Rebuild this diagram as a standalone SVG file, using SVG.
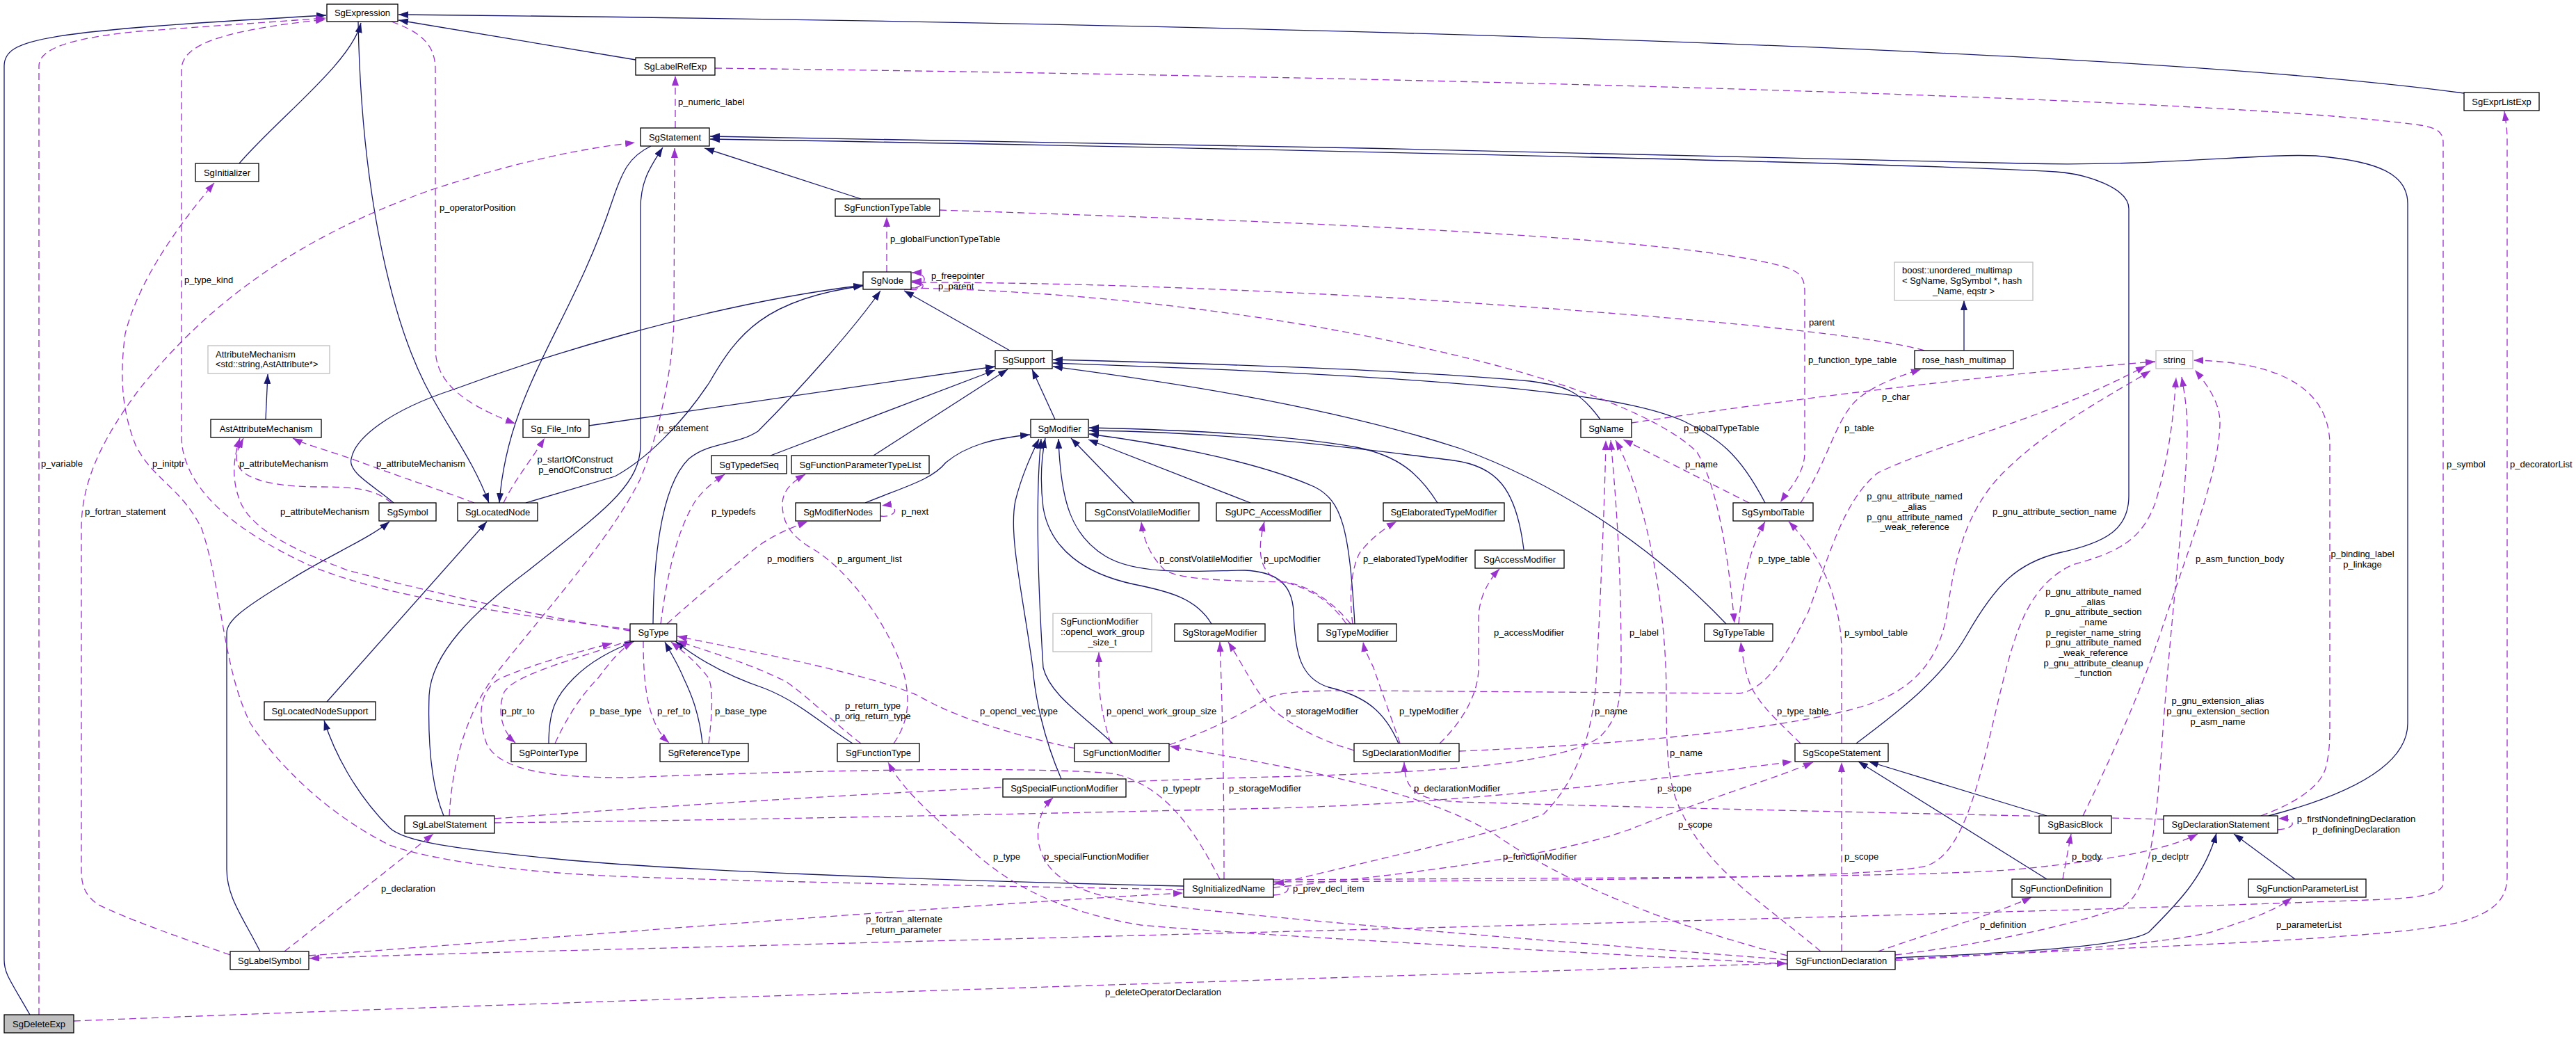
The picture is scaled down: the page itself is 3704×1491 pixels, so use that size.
<svg xmlns="http://www.w3.org/2000/svg" width="3704" height="1491" viewBox="0 0 3704 1491">
<style>
text{font-family:"Liberation Sans",Arial,Helvetica,sans-serif;font-size:13px;fill:#000}
.n rect{fill:#fff;stroke:#000;stroke-width:1.3}
.g rect{stroke:#bfbfbf}
.n text{text-anchor:middle}
.n text.l{text-anchor:start}
.inh{fill:none;stroke:#191970;stroke-width:1.3;marker-end:url(#ab)}
.use{fill:none;stroke:#9a32cd;stroke-width:1.3;stroke-dasharray:10,6;marker-end:url(#ap)}
.m{text-anchor:middle}
</style>
<defs>
<marker id="ab" viewBox="0 0 14 10" refX="14" refY="5" markerWidth="14" markerHeight="10" orient="auto" markerUnits="userSpaceOnUse"><path d="M0,0L14,5L0,10z" fill="#191970"/></marker>
<marker id="ap" viewBox="0 0 14 10" refX="14" refY="5" markerWidth="14" markerHeight="10" orient="auto" markerUnits="userSpaceOnUse"><path d="M0,0L14,5L0,10z" fill="#9a32cd"/></marker>
</defs>
<rect width="3704" height="1491" fill="#fff"/>
<g id="connectors">
<path class="inh" d="M344,235C400,170 505,90 519,33"/>
<path class="inh" d="M914,86L573,29"/>
<path class="inh" d="M3543,134C3000,60 1500,30 573,21"/>
<path class="inh" d="M43,1459C15,1410 6,1400 6,1380L6,95C6,55 60,45 469,22"/>
<path class="inh" d="M515,31C520,300 570,470 610,550C640,610 680,660 703,723"/>
<path class="inh" d="M936,210C905,225 895,245 880,290C820,470 730,560 718,723"/>
<path class="inh" d="M756,723L884,685C930,660 980,610 1020,550C1060,480 1100,430 1241,411"/>
<path class="inh" d="M566,723C540,700 500,680 505,660C510,630 560,590 652,560C760,520 1000,440 1241,410"/>
<path class="inh" d="M939,897C940,800 950,700 990,660C1020,635 1060,640 1090,620C1150,560 1230,470 1266,418"/>
<path class="inh" d="M1452,504L1300,418"/>
<path class="inh" d="M382,603L385,538"/>
<path class="inh" d="M847,612L1431,527"/>
<path class="inh" d="M1108,655L1431,532"/>
<path class="inh" d="M1256,655L1449,531"/>
<path class="inh" d="M1517,603L1484,531"/>
<path class="inh" d="M2301,603C2270,560 2250,555 2200,548C2000,530 1700,522 1514,517"/>
<path class="inh" d="M2538,723C2500,650 2470,630 2420,605C2350,575 2200,545 1514,522"/>
<path class="inh" d="M2482,897C2380,790 2250,700 2100,645C1900,580 1650,545 1514,527"/>
<path class="inh" d="M1244,723C1300,700 1340,690 1360,665C1390,640 1430,630 1481,625"/>
<path class="inh" d="M1630,723L1540,630"/>
<path class="inh" d="M1798,723L1565,632"/>
<path class="inh" d="M2067,723C2040,680 2010,655 1950,643C1850,625 1700,618 1566,615"/>
<path class="inh" d="M2191,790C2180,700 2150,670 2090,662C1990,650 1800,622 1566,619"/>
<path class="inh" d="M1948,897C1940,760 1930,720 1890,700C1800,660 1650,635 1566,624"/>
<path class="inh" d="M1742,897C1720,860 1680,850 1630,840C1560,825 1510,790 1500,730C1495,690 1497,660 1503,630"/>
<path class="inh" d="M1600,1069C1560,1030 1510,1000 1500,960C1490,800 1490,700 1497,631"/>
<path class="inh" d="M2011,1069C1990,1020 1960,1000 1910,988C1870,975 1862,940 1860,880C1858,835 1830,822 1790,820C1740,820 1640,830 1590,800C1540,770 1525,720 1522,631"/>
<path class="inh" d="M1526,1120C1500,1060 1488,1000 1485,960C1470,850 1450,770 1460,720C1470,680 1485,650 1494,631"/>
<path class="inh" d="M1238,286L1013,213"/>
<path class="inh" d="M2669,1069C2720,1030 2790,980 2828,913C2870,840 2900,810 2960,795C3030,780 3061,760 3061,713L3061,300C3061,270 3000,250 2956,247C2700,232 1400,206 1021,200"/>
<path class="inh" d="M3262,1173C3350,1150 3462,1110 3462,1040L3462,293C3462,250 3420,232 3330,224C3250,220 3100,240 2911,235C2600,224 1300,200 1021,196"/>
<path class="inh" d="M638,1173C620,1130 615,1070 617,1000C620,940 680,880 760,820C860,740 921,700 921,640L921,300C921,260 935,240 953,212"/>
<path class="inh" d="M789,1069C789,1020 800,1000 825,975C850,950 880,935 912,922"/>
<path class="inh" d="M1010,1069C1005,1020 990,990 983,975C975,955 965,940 956,923"/>
<path class="inh" d="M1226,1069C1180,1040 1150,1010 1100,990C1040,970 1000,945 971,922"/>
<path class="inh" d="M374,1368C350,1320 326,1290 326,1250L326,910C326,895 340,880 415,835C470,800 530,775 560,750"/>
<path class="inh" d="M470,1009L700,750"/>
<path class="inh" d="M1702,1274C1300,1265 950,1250 800,1235C650,1220 580,1210 560,1190C510,1140 480,1080 466,1036"/>
<path class="inh" d="M2824,504L2824,432"/>
<path class="inh" d="M2943,1173L2687,1095"/>
<path class="inh" d="M2943,1264L2672,1095"/>
<path class="inh" d="M2726,1377C2900,1370 3060,1360 3090,1340C3130,1300 3170,1260 3187,1198"/>
<path class="inh" d="M3300,1264L3212,1199"/>

<path class="use" d="M56,1459L56,95C56,70 100,55 200,45L468,26"/>
<path class="use" d="M906,905C750,885 560,860 450,815C350,770 290,720 270,670C262,650 261,640 261,620L261,100C261,70 300,45 468,28"/>
<path class="use" d="M1702,1279C1300,1272 950,1264 850,1258C700,1250 600,1230 560,1215C470,1170 400,1100 360,1040C320,960 320,850 290,760C260,700 220,690 195,640C175,590 172,540 180,480C200,400 260,320 308,263"/>
<path class="use" d="M563,31C600,45 626,60 626,100L626,500C626,540 650,575 741,609"/>
<path class="use" d="M331,1373C250,1345 180,1320 140,1300C120,1285 117,1270 117,1250L117,760C117,700 140,640 200,560C280,460 400,350 623,272C720,240 820,215 913,205"/>
<path class="use" d="M971,184L971,109"/>
<path class="use" d="M1028,98C2000,110 3200,140 3480,180C3505,184 3513,190 3513,205L3513,1270C3513,1285 3480,1292 3404,1294C3000,1310 2000,1335 1000,1362C800,1367 600,1372 445,1378"/>
<path class="use" d="M2725,1379C3100,1360 3450,1350 3540,1325C3590,1310 3605,1290 3605,1260L3605,200C3605,185 3603,175 3601,160"/>
<path class="use" d="M1275,391L1275,312"/>
<path class="use" d="M1300,416C1335,416 1338,392 1311,392"/>
<path class="use" d="M1308,416C1330,420 1336,405 1311,404"/>
<path class="use" d="M2767,504C2700,485 2500,460 2000,428C1700,412 1500,406 1311,406"/>
<path class="use" d="M1310,414C1600,420 1900,460 2150,525C2300,565 2400,610 2440,650C2470,700 2485,800 2494,896"/>
<path class="use" d="M1351,302C1900,320 2400,340 2560,382C2590,390 2595,400 2595,420L2595,650C2595,680 2575,700 2560,722"/>
<path class="use" d="M2589,723C2630,660 2640,600 2672,573C2700,550 2740,538 2762,531"/>
<path class="use" d="M2515,723L2334,632"/>
<path class="use" d="M2346,608C2600,570 2900,535 3099,520"/>
<path class="use" d="M2500,897C2505,840 2515,790 2538,750"/>
<path class="use" d="M2648,1069L2648,930C2645,860 2620,800 2572,750"/>
<path class="use" d="M2589,1069C2560,1040 2525,1010 2515,980C2508,960 2505,940 2503,923"/>
<path class="use" d="M1681,1071C1740,1050 1780,1030 1820,1005C1840,995 1870,993 1950,993L2500,997C2540,992 2570,940 2600,880C2630,800 2650,720 2700,680C2780,640 2950,600 3085,526"/>
<path class="use" d="M2098,1080C2400,1068 2600,1040 2680,1015C2760,990 2790,940 2800,880C2810,800 2830,730 2880,680C2950,610 3050,560 3092,533"/>
<path class="use" d="M1831,1268C2300,1266 2700,1262 2770,1245C2830,1225 2850,1100 2880,980C2900,900 2920,840 2980,812C3040,795 3080,780 3100,720C3120,650 3125,600 3129,543"/>
<path class="use" d="M2995,1173C3040,1080 3080,990 3110,900C3150,780 3190,680 3192,610C3193,580 3175,555 3156,532"/>
<path class="use" d="M2725,1373C2850,1358 2980,1330 3050,1305C3090,1285 3100,1200 3110,1050C3125,850 3145,700 3145,620C3145,585 3140,560 3137,542"/>
<path class="use" d="M3251,1173C3300,1155 3340,1130 3345,1100C3350,1080 3350,1060 3350,1040L3350,640C3350,560 3280,520 3154,518"/>
<path class="use" d="M2070,1069C2100,1040 2126,1000 2126,960L2126,890C2126,860 2140,835 2156,818"/>
<path class="use" d="M2013,1069C2000,1030 1985,990 1975,960C1968,945 1962,935 1960,923"/>
<path class="use" d="M1947,1079C1900,1065 1860,1045 1830,1020C1805,995 1790,960 1766,923"/>
<path class="use" d="M1760,1264C1760,1100 1757,1000 1754,923"/>
<path class="use" d="M1546,1076C1450,1055 1370,1030 1320,1000C1250,970 1100,940 974,915"/>
<path class="use" d="M1597,1069C1585,1030 1580,1000 1580,970L1580,938"/>
<path class="use" d="M1238,1069C1200,1040 1160,1000 1130,980C1070,950 1010,935 974,921"/>
<path class="use" d="M1285,1069C1305,1040 1310,1010 1300,970C1280,900 1220,820 1170,790C1135,770 1125,750 1125,725C1125,705 1140,692 1158,682"/>
<path class="use" d="M925,922C925,980 930,1040 962,1068"/>
<path class="use" d="M1019,1069C1025,1020 1025,990 1019,975C1000,950 980,935 965,923"/>
<path class="use" d="M908,920C820,950 740,970 725,995C715,1020 720,1050 741,1068"/>
<path class="use" d="M798,1069C820,1020 845,990 860,975C875,955 890,935 910,923"/>
<path class="use" d="M1754,1264C1720,1200 1680,1130 1600,1112C1450,1100 1100,1110 900,1118C800,1118 720,1110 700,1070C685,1030 690,990 720,975C780,950 840,935 880,925"/>
<path class="use" d="M2570,1386C2200,1365 1800,1345 1640,1330C1520,1310 1450,1270 1400,1225C1350,1180 1300,1140 1277,1096"/>
<path class="use" d="M2570,1380C2200,1350 1800,1320 1620,1295C1530,1280 1500,1250 1493,1210C1490,1180 1500,1160 1514,1147"/>
<path class="use" d="M2570,1374C2400,1330 2250,1270 2150,1200C2050,1140 1900,1110 1682,1073"/>
<path class="use" d="M106,1468C800,1440 1800,1410 2569,1385"/>
<path class="use" d="M409,1368L623,1199"/>
<path class="use" d="M444,1374C900,1340 1400,1300 1701,1284"/>
<path class="use" d="M646,1173C650,1100 670,1020 720,960C800,860 880,770 920,690C950,620 968,520 969,460L970,213"/>
<path class="use" d="M711,1183C1000,1180 1500,1170 1830,1162C2100,1155 2350,1125 2577,1095"/>
<path class="use" d="M711,1177C1000,1155 1500,1125 1830,1117C2100,1110 2250,1095 2300,1060C2330,1030 2331,1000 2331,950C2331,800 2322,700 2316,633"/>
<path class="use" d="M1831,1272C2000,1230 2150,1200 2220,1170C2270,1120 2290,1050 2295,980C2302,850 2308,700 2309,633"/>
<path class="use" d="M2618,1368C2550,1310 2470,1260 2430,1190C2400,1140 2396,1110 2396,1000C2396,850 2360,700 2323,633"/>
<path class="use" d="M1831,1276C2000,1260 2250,1230 2350,1190C2450,1150 2550,1120 2607,1096"/>
<path class="use" d="M2648,1368L2648,1096"/>
<path class="use" d="M3111,1178C2900,1172 2500,1165 2100,1153C2040,1150 2020,1140 2019,1096"/>
<path class="use" d="M1831,1265C2300,1262 2750,1262 2900,1250C3050,1235 3120,1220 3160,1199"/>
<path class="use" d="M1831,1287C1858,1287 1860,1268 1832,1270"/>
<path class="use" d="M3275,1193C3302,1192 3304,1176 3276,1177"/>
<path class="use" d="M1266,742C1292,745 1294,723 1268,727"/>
<path class="use" d="M2966,1264L2978,1199"/>
<path class="use" d="M2700,1368C2780,1340 2880,1310 2921,1290"/>
<path class="use" d="M2726,1381C2900,1370 3100,1360 3180,1340C3240,1320 3270,1310 3295,1291"/>
<path class="use" d="M959,897C1000,860 1060,810 1090,785C1120,765 1140,758 1161,750"/>
<path class="use" d="M950,897C960,820 975,760 1000,720C1015,700 1030,690 1042,682"/>
<path class="use" d="M724,723C740,690 765,660 783,630"/>
<path class="use" d="M682,723C620,700 560,680 520,665C480,650 440,640 421,630"/>
<path class="use" d="M563,723C540,705 520,700 460,700C380,700 345,685 341,665C338,650 345,640 350,630"/>
<path class="use" d="M906,907C800,890 650,860 500,820C420,790 360,760 345,720C333,690 335,660 345,630"/>
<path class="use" d="M1942,897C1920,870 1890,845 1850,837C1780,835 1700,835 1675,820C1655,800 1645,780 1641,750"/>
<path class="use" d="M1936,897C1910,860 1880,845 1840,835C1815,825 1805,800 1818,750"/>
<path class="use" d="M1945,897C1940,860 1942,820 1955,795C1970,775 1990,760 2008,750"/>
</g>
<g id="edge-labels">
<text x="59" y="671">p_variable</text>
<text x="265" y="407">p_type_kind</text>
<text x="632" y="303">p_operatorPosition</text>
<text x="219" y="671">p_initptr</text>
<text x="344" y="671">p_attributeMechanism</text>
<text x="541" y="671">p_attributeMechanism</text>
<text x="403" y="740">p_attributeMechanism</text>
<text x="122" y="740">p_fortran_statement</text>
<text class="m" x="827" y="664.5">p_startOfConstruct</text>
<text class="m" x="827" y="679.5">p_endOfConstruct</text>
<text x="975" y="150.5">p_numeric_label</text>
<text x="1280" y="347.5">p_globalFunctionTypeTable</text>
<text x="1339" y="400.5">p_freepointer</text>
<text x="1349" y="415.5">p_parent</text>
<text x="2601" y="467.5">parent</text>
<text x="2600" y="521.5">p_function_type_table</text>
<text x="2706" y="574.5">p_char</text>
<text x="2421" y="619.5">p_globalTypeTable</text>
<text x="2652" y="619.5">p_table</text>
<text x="2423" y="671.5">p_name</text>
<text class="m" x="2753" y="717.5">p_gnu_attribute_named</text>
<text class="m" x="2753" y="732.5">_alias</text>
<text class="m" x="2753" y="747.5">p_gnu_attribute_named</text>
<text class="m" x="2753" y="761.5">_weak_reference</text>
<text x="2865" y="739.5">p_gnu_attribute_section_name</text>
<text x="3157" y="807.5">p_asm_function_body</text>
<text class="m" x="3397" y="800.5">p_binding_label</text>
<text class="m" x="3397" y="815.5">p_linkage</text>
<text x="3518" y="671.5">p_symbol</text>
<text x="3609" y="671.5">p_decoratorList</text>
<text x="947" y="619.5">p_statement</text>
<text x="1023" y="739.5">p_typedefs</text>
<text x="1296" y="739.5">p_next</text>
<text x="1103" y="807.5">p_modifiers</text>
<text x="1204" y="807.5">p_argument_list</text>
<text x="1667" y="807.5">p_constVolatileModifier</text>
<text x="1817" y="807.5">p_upcModifier</text>
<text x="1960" y="807.5">p_elaboratedTypeModifier</text>
<text x="2528" y="807.5">p_type_table</text>
<text x="2148" y="913.5">p_accessModifier</text>
<text x="2343" y="913.5">p_label</text>
<text x="2652" y="913.5">p_symbol_table</text>
<text class="m" x="3010" y="854.5">p_gnu_attribute_named</text>
<text class="m" x="3010" y="869.5">_alias</text>
<text class="m" x="3010" y="883.5">p_gnu_attribute_section</text>
<text class="m" x="3010" y="898.5">_name</text>
<text class="m" x="3010" y="913.5">p_register_name_string</text>
<text class="m" x="3010" y="927.5">p_gnu_attribute_named</text>
<text class="m" x="3010" y="942.5">_weak_reference</text>
<text class="m" x="3010" y="957.5">p_gnu_attribute_cleanup</text>
<text class="m" x="3010" y="971.5">_function</text>
<text x="721" y="1026.5">p_ptr_to</text>
<text x="848" y="1026.5">p_base_type</text>
<text x="945" y="1026.5">p_ref_to</text>
<text x="1028" y="1026.5">p_base_type</text>
<text class="m" x="1255" y="1018.5">p_return_type</text>
<text class="m" x="1255" y="1033.5">p_orig_return_type</text>
<text x="1409" y="1026.5">p_opencl_vec_type</text>
<text x="1591" y="1026.5">p_opencl_work_group_size</text>
<text x="1849" y="1026.5">p_storageModifier</text>
<text x="2012" y="1026.5">p_typeModifier</text>
<text x="2293" y="1026.5">p_name</text>
<text x="2555" y="1026.5">p_type_table</text>
<text class="m" x="3189" y="1011.5">p_gnu_extension_alias</text>
<text class="m" x="3189" y="1026.5">p_gnu_extension_section</text>
<text class="m" x="3189" y="1041.5">p_asm_name</text>
<text x="2401" y="1086.5">p_name</text>
<text x="1672" y="1137.5">p_typeptr</text>
<text x="1767" y="1137.5">p_storageModifier</text>
<text x="2033" y="1137.5">p_declarationModifier</text>
<text x="2383" y="1137.5">p_scope</text>
<text class="m" x="3388" y="1181.5">p_firstNondefiningDeclaration</text>
<text class="m" x="3388" y="1196.5">p_definingDeclaration</text>
<text x="2413" y="1189.5">p_scope</text>
<text x="1428" y="1235.5">p_type</text>
<text x="1501" y="1235.5">p_specialFunctionModifier</text>
<text x="2161" y="1235.5">p_functionModifier</text>
<text x="2652" y="1235.5">p_scope</text>
<text x="2979" y="1235.5">p_body</text>
<text x="3094" y="1235.5">p_declptr</text>
<text x="548" y="1281.5">p_declaration</text>
<text x="1859" y="1281.5">p_prev_decl_item</text>
<text class="m" x="1300" y="1325.5">p_fortran_alternate</text>
<text class="m" x="1300" y="1340.5">_return_parameter</text>
<text x="2847" y="1333.5">p_definition</text>
<text x="3273" y="1333.5">p_parameterList</text>
<text x="1589" y="1430.5">p_deleteOperatorDeclaration</text>
</g>
<g id="SgExpression" class="n"><rect x="470" y="6" width="102" height="25"/><text x="521" y="23">SgExpression</text></g>
<g id="SgLabelRefExp" class="n"><rect x="914" y="83" width="114" height="25"/><text x="971" y="100">SgLabelRefExp</text></g>
<g id="SgStatement" class="n"><rect x="921" y="184" width="99" height="26"/><text x="970.5" y="201.5">SgStatement</text></g>
<g id="SgInitializer" class="n"><rect x="281" y="235" width="91" height="26"/><text x="326.5" y="252.5">SgInitializer</text></g>
<g id="SgFunctionTypeTable" class="n"><rect x="1201" y="286" width="150" height="25"/><text x="1276" y="303">SgFunctionTypeTable</text></g>
<g id="SgNode" class="n"><rect x="1241" y="391" width="69" height="25"/><text x="1275.5" y="408">SgNode</text></g>
<g id="SgExprListExp" class="n"><rect x="3543" y="133" width="108" height="26"/><text x="3597" y="150.5">SgExprListExp</text></g>
<g id="boost_unordered_multimap" class="n g"><rect x="2724" y="377" width="199" height="55"/><text class="l" x="2735" y="392.5">boost::unordered_multimap</text><text class="l" x="2735" y="407.5">&lt; SgName, SgSymbol *, hash</text><text x="2823.5" y="422.5">_Name, eqstr &gt;</text></g>
<g id="rose_hash_multimap" class="n"><rect x="2753" y="504" width="142" height="26"/><text x="2824" y="521.5">rose_hash_multimap</text></g>
<g id="string" class="n g"><rect x="3100" y="504" width="53" height="26"/><text x="3126.5" y="521.5">string</text></g>
<g id="SgSupport" class="n"><rect x="1431" y="504" width="82" height="26"/><text x="1472" y="521.5">SgSupport</text></g>
<g id="AttributeMechanism" class="n g"><rect x="299" y="497" width="175" height="40"/><text class="l" x="310" y="513.5">AttributeMechanism</text><text class="l" x="310" y="527.5">&lt;std::string,AstAttribute*&gt;</text></g>
<g id="AstAttributeMechanism" class="n"><rect x="303" y="603" width="159" height="26"/><text x="382.5" y="620.5">AstAttributeMechanism</text></g>
<g id="Sg_File_Info" class="n"><rect x="752" y="603" width="95" height="26"/><text x="799.5" y="620.5">Sg_File_Info</text></g>
<g id="SgModifier" class="n"><rect x="1482" y="603" width="83" height="26"/><text x="1523.5" y="620.5">SgModifier</text></g>
<g id="SgName" class="n"><rect x="2273" y="603" width="73" height="26"/><text x="2309.5" y="620.5">SgName</text></g>
<g id="SgTypedefSeq" class="n"><rect x="1023" y="655" width="108" height="26"/><text x="1077" y="672.5">SgTypedefSeq</text></g>
<g id="SgFunctionParameterTypeList" class="n"><rect x="1138" y="655" width="198" height="26"/><text x="1237" y="672.5">SgFunctionParameterTypeList</text></g>
<g id="SgSymbol" class="n"><rect x="545" y="723" width="82" height="26"/><text x="586" y="740.5">SgSymbol</text></g>
<g id="SgLocatedNode" class="n"><rect x="658" y="723" width="115" height="26"/><text x="715.5" y="740.5">SgLocatedNode</text></g>
<g id="SgModifierNodes" class="n"><rect x="1144" y="723" width="122" height="26"/><text x="1205" y="740.5">SgModifierNodes</text></g>
<g id="SgConstVolatileModifier" class="n"><rect x="1561" y="723" width="163" height="26"/><text x="1642.5" y="740.5">SgConstVolatileModifier</text></g>
<g id="SgUPC_AccessModifier" class="n"><rect x="1749" y="723" width="164" height="26"/><text x="1831" y="740.5">SgUPC_AccessModifier</text></g>
<g id="SgElaboratedTypeModifier" class="n"><rect x="1989" y="723" width="174" height="26"/><text x="2076" y="740.5">SgElaboratedTypeModifier</text></g>
<g id="SgSymbolTable" class="n"><rect x="2492" y="723" width="115" height="26"/><text x="2549.5" y="740.5">SgSymbolTable</text></g>
<g id="SgAccessModifier" class="n"><rect x="2121" y="791" width="128" height="26"/><text x="2185" y="808.5">SgAccessModifier</text></g>
<g id="SgType" class="n"><rect x="906" y="897" width="67" height="25"/><text x="939.5" y="914">SgType</text></g>
<g id="SgFunctionModifier_opencl_work_group_size_t" class="n g"><rect x="1514" y="882" width="142" height="55"/><text class="l" x="1525" y="897.5">SgFunctionModifier</text><text class="l" x="1525" y="912.5">::opencl_work_group</text><text x="1585" y="927.5">_size_t</text></g>
<g id="SgStorageModifier" class="n"><rect x="1689" y="897" width="130" height="25"/><text x="1754" y="914">SgStorageModifier</text></g>
<g id="SgTypeModifier" class="n"><rect x="1895" y="897" width="113" height="25"/><text x="1951.5" y="914">SgTypeModifier</text></g>
<g id="SgTypeTable" class="n"><rect x="2451" y="897" width="98" height="25"/><text x="2500" y="914">SgTypeTable</text></g>
<g id="SgLocatedNodeSupport" class="n"><rect x="380" y="1009" width="160" height="26"/><text x="460" y="1026.5">SgLocatedNodeSupport</text></g>
<g id="SgPointerType" class="n"><rect x="735" y="1069" width="108" height="26"/><text x="789" y="1086.5">SgPointerType</text></g>
<g id="SgReferenceType" class="n"><rect x="949" y="1069" width="127" height="26"/><text x="1012.5" y="1086.5">SgReferenceType</text></g>
<g id="SgFunctionType" class="n"><rect x="1204" y="1069" width="118" height="26"/><text x="1263" y="1086.5">SgFunctionType</text></g>
<g id="SgFunctionModifier" class="n"><rect x="1545" y="1069" width="136" height="26"/><text x="1613" y="1086.5">SgFunctionModifier</text></g>
<g id="SgDeclarationModifier" class="n"><rect x="1947" y="1069" width="151" height="26"/><text x="2022.5" y="1086.5">SgDeclarationModifier</text></g>
<g id="SgScopeStatement" class="n"><rect x="2581" y="1069" width="134" height="26"/><text x="2648" y="1086.5">SgScopeStatement</text></g>
<g id="SgSpecialFunctionModifier" class="n"><rect x="1442" y="1120" width="177" height="26"/><text x="1530.5" y="1137.5">SgSpecialFunctionModifier</text></g>
<g id="SgLabelStatement" class="n"><rect x="582" y="1173" width="129" height="25"/><text x="646.5" y="1190">SgLabelStatement</text></g>
<g id="SgBasicBlock" class="n"><rect x="2932" y="1173" width="104" height="25"/><text x="2984" y="1190">SgBasicBlock</text></g>
<g id="SgDeclarationStatement" class="n"><rect x="3111" y="1173" width="164" height="25"/><text x="3193" y="1190">SgDeclarationStatement</text></g>
<g id="SgInitializedName" class="n"><rect x="1702" y="1264" width="129" height="26"/><text x="1766.5" y="1281.5">SgInitializedName</text></g>
<g id="SgFunctionDefinition" class="n"><rect x="2893" y="1264" width="142" height="26"/><text x="2964" y="1281.5">SgFunctionDefinition</text></g>
<g id="SgFunctionParameterList" class="n"><rect x="3233" y="1264" width="169" height="26"/><text x="3317.5" y="1281.5">SgFunctionParameterList</text></g>
<g id="SgLabelSymbol" class="n"><rect x="331" y="1368" width="113" height="26"/><text x="387.5" y="1385.5">SgLabelSymbol</text></g>
<g id="SgFunctionDeclaration" class="n"><rect x="2570" y="1368" width="155" height="26"/><text x="2647.5" y="1385.5">SgFunctionDeclaration</text></g>
<g id="SgDeleteExp" class="n"><rect x="6" y="1459" width="100" height="26" style="fill:#bfbfbf"/><text x="56" y="1476.5">SgDeleteExp</text></g>
</svg>
